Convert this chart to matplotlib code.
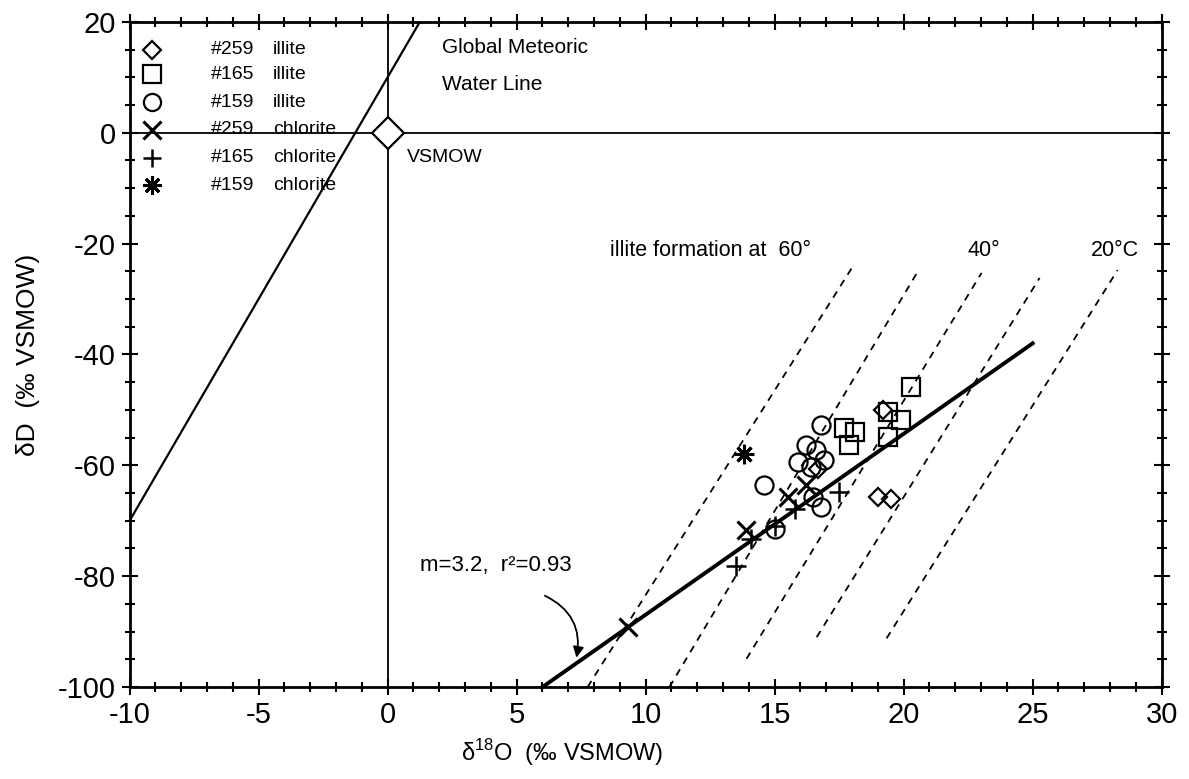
import matplotlib
matplotlib.use("Agg")
import matplotlib.pyplot as plt
from matplotlib.ticker import MultipleLocator

plt.rcParams['font.family'] = ['Liberation Sans', 'DejaVu Sans']
plt.rcParams['axes.unicode_minus'] = False
plt.rcParams['mathtext.fontset'] = 'custom'
plt.rcParams['mathtext.rm'] = 'Liberation Sans'

# === Data ===
# #259 illite (diamonds)
ill259_x = [19.2, 16.7, 19.0, 19.5]
ill259_y = [-50.0, -60.6, -65.7, -66.0]
# #165 illite (squares)
ill165_x = [20.3, 17.7, 18.1, 17.9, 19.9, 19.4, 19.4]
ill165_y = [-45.8, -53.3, -53.9, -56.4, -51.8, -54.9, -50.4]
# #159 illite (circles)
ill159_x = [14.6, 16.8, 16.2, 16.6, 15.9, 16.4, 16.9, 16.5, 16.8, 15.0]
ill159_y = [-63.6, -52.7, -56.4, -57.3, -59.4, -60.3, -59.1, -65.7, -67.5, -71.5]
# #259 chlorite (x)
chl259_x = [9.3, 13.9, 15.5, 16.2]
chl259_y = [-89.2, -71.7, -65.7, -63.5]
# #165 chlorite (+)
chl165_x = [13.5, 14.1, 15.0, 15.8, 17.5]
chl165_y = [-78.2, -73.2, -71.0, -67.8, -64.8]
# #159 chlorite (asterisk)
chl159_x = [13.8]
chl159_y = [-57.9]

# meteoric water line dD = 8 d18O + 10, and regression through the data
gmwl_x = [-10, 1.25]
gmwl_y = [-70, 20]
fit_x = [6.0, 25.0]
fit_y = [-100, -38]

# illite formation isotherms (dashed), start and end points
iso_x0 = [7.75, 10.92, 13.91, 16.63, 19.34]
iso_y0 = [-100, -100, -94.9, -91.0, -91.2]
iso_x1 = [18.06, 20.58, 23.02, 25.27, 28.29]
iso_y1 = [-23.9, -24.8, -25.3, -26.2, -24.8]

leg_ids = ['#259', '#165', '#159', '#259', '#165', '#159']
leg_names = ['illite', 'illite', 'illite', 'chlorite', 'chlorite', 'chlorite']

# === Figure ===
fig = plt.figure(figsize=(11.89, 7.79), dpi=100)
ax = fig.add_axes([0.109, 0.118, 0.868, 0.854])
ax.set_xlim(-10, 30)
ax.set_ylim(-100, 20)

ax.axhline(0, color='k', lw=1.3, zorder=1)
ax.axvline(0, color='k', lw=1.3, zorder=1)
ax.plot(gmwl_x, gmwl_y, color='k', lw=1.6, zorder=2)
ax.plot(fit_x, fit_y, color='k', lw=2.8, zorder=2)
for i in range(len(iso_x0)):
    ax.plot([iso_x0[i], iso_x1[i]], [iso_y0[i], iso_y1[i]], color='k',
            lw=1.3, linestyle=(0, (4, 3.5)), zorder=2)

# VSMOW
ax.plot([0], [0], marker='D', ms=16, mfc='white', mec='k', mew=1.6, zorder=5)
ax.text(0.75, -4.4, 'VSMOW', fontsize=14, va='center', ha='left')

open_kw = dict(linestyle='none', mfc='none', mec='k', mew=1.6, zorder=4)
styles = [
    (ill259_x, ill259_y, dict(marker='D', ms=9.5, **open_kw)),
    (ill165_x, ill165_y, dict(marker='s', ms=13, **open_kw)),
    (ill159_x, ill159_y, dict(marker='o', ms=13, **open_kw)),
    (chl259_x, chl259_y, dict(marker='x', ms=13, mew=2.2, color='k', linestyle='none', zorder=4)),
    (chl165_x, chl165_y, dict(marker='+', ms=14, mew=1.8, color='k', linestyle='none', zorder=4)),
    (chl159_x, chl159_y, dict(marker=(8, 2, 0), ms=14, mew=2.2, color='k', linestyle='none', zorder=4)),
]
for xs, ys, kw in styles:
    ax.plot(xs, ys, **kw)

# legend drawn by hand like the original
leg_y = [15, 10.5, 5.5, 0.5, -4.5, -9.5]
leg_sizes = [9.5, 13, 13, 13, 14, 14]
for i, (xs, ys, kw) in enumerate(styles):
    k = dict(kw)
    k['ms'] = leg_sizes[i] * 0.95
    k['clip_on'] = False
    ax.plot([-9.15], [leg_y[i]], **k)
    ax.text(-6.85, leg_y[i], leg_ids[i], fontsize=14, va='center')
    ax.text(-4.45, leg_y[i], leg_names[i], fontsize=14, va='center')

ax.text(2.1, 15.3, 'Global Meteoric', fontsize=15, va='center')
ax.text(2.1, 8.7, 'Water Line', fontsize=15, va='center')

ax.text(8.6, -21.2, 'illite formation at  60°', fontsize=15.5, va='center')
ax.text(23.1, -21.2, '40°', fontsize=15.5, va='center', ha='center')
ax.text(28.2, -21.2, '20°C', fontsize=15.5, va='center', ha='center')

ax.text(1.25, -78.0, 'm=3.2,  r²=0.93', fontsize=16, va='center')
ax.annotate('', xy=(7.3, -95.2), xytext=(6.0, -83.3),
            arrowprops=dict(arrowstyle='-|>', color='k', lw=1.3,
                            connectionstyle='arc3,rad=-0.4', mutation_scale=16))

# axes, ticks
for s in ax.spines.values():
    s.set_linewidth(2.0)
ax.xaxis.set_major_locator(MultipleLocator(5))
ax.xaxis.set_minor_locator(MultipleLocator(1))
ax.yaxis.set_major_locator(MultipleLocator(20))
ax.yaxis.set_minor_locator(MultipleLocator(5))
ax.tick_params(which='both', direction='inout', top=True, right=True, width=1.5)
ax.tick_params(which='major', length=12, labelsize=21, pad=4)
ax.tick_params(which='minor', length=7)

ax.set_xlabel('δ$^{18}$O  (‰ VSMOW)', fontsize=17)
ax.xaxis.set_label_coords(0.419, -0.075)
ax.set_ylabel('δD  (‰ VSMOW)', fontsize=19)
ax.yaxis.set_label_coords(-0.087, 0.5)

fig.savefig('out.png', dpi=100)
